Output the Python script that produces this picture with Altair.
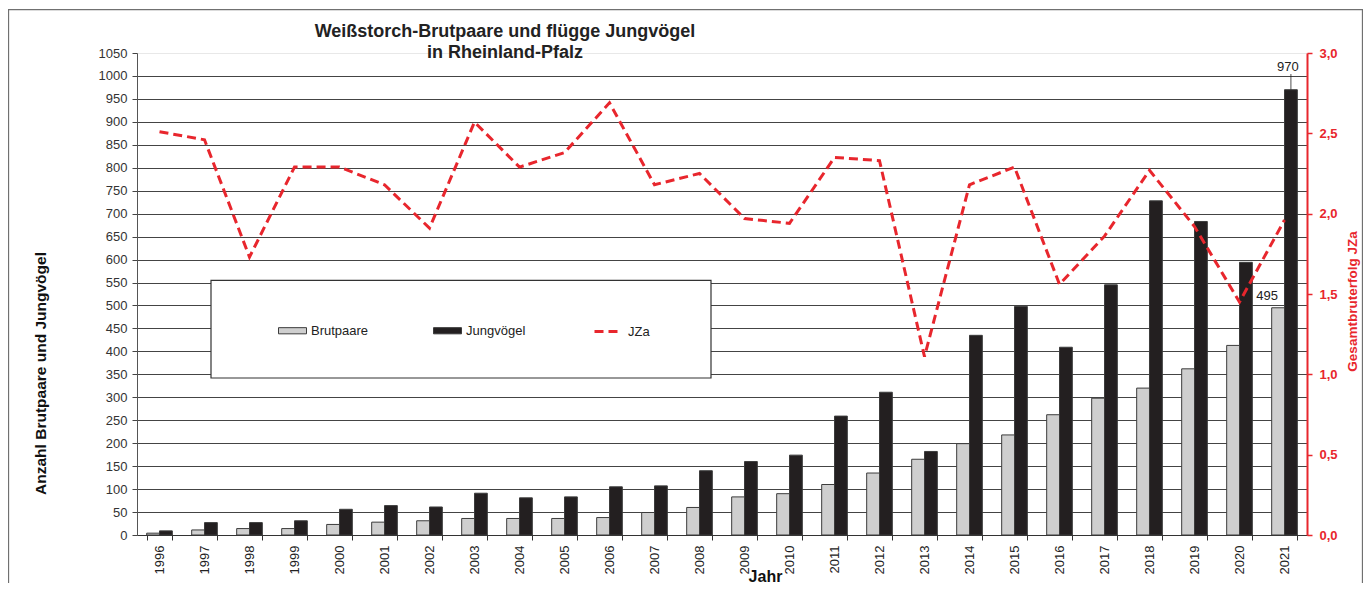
import altair as alt
import pandas as pd

FONT = "Liberation Sans"
RED = "#e8262d"
GRAY_BAR = "#cfcfcf"
BLACK_BAR = "#231f20"

years = [str(y) for y in range(1996, 2022)]
brutpaare = [4, 11, 14, 14, 23, 28, 31, 36, 36, 36, 38, 49, 60, 83, 90, 110, 135, 165, 199, 218, 262, 298, 320, 362, 413, 495]
jungvoegel = [9, 27, 27, 31, 56, 64, 61, 91, 81, 83, 105, 107, 140, 160, 174, 259, 311, 182, 435, 498, 409, 545, 728, 683, 594, 970]
jza = [2.51, 2.46, 1.73, 2.29, 2.29, 2.18, 1.91, 2.57, 2.29, 2.38, 2.69, 2.18, 2.25, 1.97, 1.94, 2.35, 2.33, 1.11, 2.18, 2.29, 1.56, 1.86, 2.27, 1.92, 1.45, 1.96]
bar_series = ["Brutpaare", "Jungvögel"]
line_series = ["JZa"]
left_ticks = list(range(0, 1051, 50))
right_ticks = [0, 0.5, 1.0, 1.5, 2.0, 2.5, 3.0]

df_bars = pd.DataFrame(
    [{"year": y, "series": "Brutpaare", "value": v} for y, v in zip(years, brutpaare)]
    + [{"year": y, "series": "Jungvögel", "value": v} for y, v in zip(years, jungvoegel)]
)
df_line = pd.DataFrame({"year": years, "jza": jza})

x_enc = alt.X(
    "year:N",
    sort=years,
    scale=alt.Scale(paddingInner=0.43, paddingOuter=0.215),
    axis=alt.Axis(
        title="Jahr", titleFont=FONT, titleFontSize=16, titleFontWeight="bold", titleColor="#111",
        titleX=628, titleY=46, titleBaseline="alphabetic", titleAlign="center",
        labelAngle=-90, labelFont=FONT, labelFontSize=13, labelColor="#222", labelPadding=5,
        tickBand="extent", tickSize=5, tickColor="#333", domainColor="#333", labelOverlap=False,
        grid=False,
    ),
)
xoff = alt.XOffset("series:N", scale=alt.Scale(domain=bar_series, paddingInner=0, paddingOuter=0))

y_left = alt.Y(
    "value:Q",
    scale=alt.Scale(domain=[0, 1050], nice=False),
    axis=alt.Axis(
        values=left_ticks, format="d", labelOverlap=False, labelFlush=False, tickCount=22,
        title="Anzahl Brutpaare und Jungvögel", titleFont=FONT, titleFontSize=15.5,
        titleFontWeight="bold", titleColor="#111", titleAngle=270, titleX=-97, titleY=320,
        titleAlign="center", titleBaseline="middle",
        labelFont=FONT, labelFontSize=13, labelColor="#333", labelPadding=5, tickSize=5,
        tickColor="#444", domainColor="#555", grid=True,
        gridColor={"condition": {"test": "datum.value === 1050", "value": "#e8e8e8"}, "value": "#444"},
        gridWidth=1,
    ),
)

bar_path = "M-1,-0.22H1V0.22H-1Z"
bar_legend = alt.Legend(
    title=None, orient="none", legendX=141, legendY=263, direction="horizontal",
    symbolSize=784, labelFontSize=13, labelColor="#222", labelFont=FONT, labelOffset=4,
    columnPadding=62, padding=0, symbolType=bar_path, symbolStrokeColor="#3c3c3c",
    symbolStrokeWidth=1, symbolOpacity=1,
)
line_legend = alt.Legend(
    title=None, orient="none", legendX=456, legendY=263, direction="horizontal",
    symbolSize=784, labelFontSize=13, labelColor="#222", labelFont=FONT, labelOffset=4,
    padding=0, symbolType="stroke", symbolStrokeColor=RED, symbolStrokeWidth=3,
)

frame = alt.Chart(pd.DataFrame({"k": [0]})).mark_rect(
    fillOpacity=0, stroke="#707070", strokeWidth=1.3
).encode(x=alt.value(-128.5), x2=alt.value(1225.5), y=alt.value(-43.3), y2=alt.value(540))

legend_box = alt.Chart(pd.DataFrame({"k": [0]})).mark_rect(
    fill="white", stroke="#333", strokeWidth=1.2
).encode(x=alt.value(74), x2=alt.value(574), y=alt.value(227.4), y2=alt.value(325))

bars = alt.Chart(df_bars).mark_bar(stroke="#3c3c3c", strokeWidth=1).encode(
    x=x_enc, xOffset=xoff, y=y_left,
    color=alt.Color("series:N", scale=alt.Scale(domain=bar_series, range=[GRAY_BAR, BLACK_BAR]), legend=bar_legend),
)

last = years[-1]
label_970 = alt.Chart(df_bars).transform_filter(
    f"datum.year === '{last}' && datum.series === 'Jungvögel'"
).mark_text(font=FONT, fontSize=13, color="#222", dy=-19, dx=-3, baseline="alphabetic", align="center").encode(
    x=x_enc, xOffset=xoff, y=y_left, text="value:Q"
)
leader = alt.Chart(df_bars).transform_filter(
    f"datum.year === '{last}' && datum.series === 'Jungvögel'"
).mark_rule(color="#222", strokeWidth=0.8).encode(
    x=x_enc, xOffset=xoff, y=y_left, y2=alt.value(21)
)
label_495 = alt.Chart(df_bars).transform_filter(
    f"datum.year === '{last}' && datum.series === 'Brutpaare'"
).mark_text(font=FONT, fontSize=13, color="#222", dy=-8, dx=-11, baseline="alphabetic", align="center").encode(
    x=x_enc, xOffset=xoff, y=y_left, text="value:Q"
)

left_layer = alt.layer(bars, label_970, leader, label_495)

line = alt.Chart(df_line).mark_line(strokeWidth=3, color=RED).encode(
    x=x_enc,
    y=alt.Y(
        "jza:Q",
        scale=alt.Scale(domain=[0, 3], nice=False),
        axis=alt.Axis(
            orient="right", values=right_ticks,
            labelExpr="replace(format(datum.value, '.1f'), '.', ',')",
            labelFont=FONT, labelFontSize=13, labelFontWeight="bold", labelColor=RED, labelPadding=7,
            tickColor=RED, tickSize=5, tickWidth=1.5, domainColor=RED, domainWidth=2, grid=False,
            title="Gesamtbruterfolg JZa", titleFont=FONT, titleFontSize=13.5, titleFontWeight="bold",
            titleColor=RED, titleAngle=270, titleX=45, titleY=248, titleAlign="center", titleBaseline="middle",
        ),
    ),
    strokeDash=alt.StrokeDash(
        "s:N", scale=alt.Scale(domain=line_series, range=[[9, 5]]), legend=line_legend
    ),
).transform_calculate(s="'JZa'")

chart = alt.layer(frame, legend_box, left_layer, line).resolve_scale(y="independent").properties(
    width=1170,
    height=482,
    autosize=alt.AutoSizeParams(type="none"),
    padding={"left": 129, "top": 45, "right": 56, "bottom": 48},
    title=alt.TitleParams(
        text=["Weißstorch-Brutpaare und flügge Jungvögel", "in Rheinland-Pfalz"],
        font=FONT, fontSize=18, fontWeight="bold", color="#222", anchor="middle", frame="group",
        dx=-217, dy=45, offset=-8, lineHeight=21,
    ),
).configure_view(stroke=None).configure(font=FONT)

chart.save("out.html", embed_options={"renderer": "svg", "actions": False})
